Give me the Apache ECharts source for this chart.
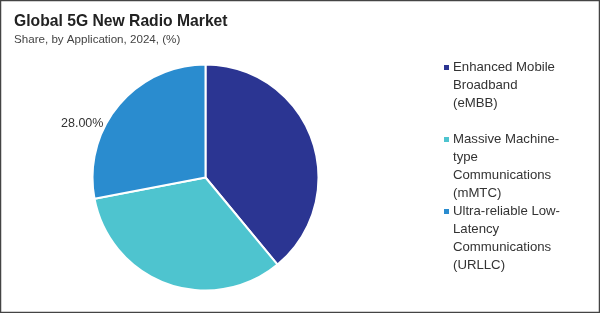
<!DOCTYPE html>
<html><head><meta charset="utf-8">
<script src="https://cdn.jsdelivr.net/npm/echarts@6/dist/echarts.min.js"></script>
<style>html,body{margin:0;padding:0;background:#fff}#c{width:600px;height:313px}</style>
</head><body><div id="c"></div>
<script>
const title = 'Global 5G New Radio Market';
const subtitle = 'Share, by Application, 2024, (%)';
const categories = [
  'Enhanced Mobile Broadband (eMBB)',
  'Massive Machine-type Communications (mMTC)',
  'Ultra-reliable Low-Latency Communications (URLLC)'
];
const legendLines = [
  ['Enhanced Mobile', 'Broadband', '(eMBB)'],
  ['Massive Machine-', 'type', 'Communications', '(mMTC)'],
  ['Ultra-reliable Low-', 'Latency', 'Communications', '(URLLC)']
];
const values = [39, 33, 28];
const labelShown = [false, false, true];
const colors = ['#2b3592', '#4ec4cf', '#2a8ccf'];

const FONT = 'Liberation Sans';
const chart = echarts.init(document.getElementById('c'), null, {renderer: 'canvas'});

const rich = {t: {fontFamily: FONT, fontSize: 13.2, color: '#333', lineHeight: 18}, ind: {width: 9, height: 18, lineHeight: 18}};
colors.forEach((c, i) => { rich['sq' + i] = {width: 5, height: 5, backgroundColor: c}; rich['g' + i] = {width: 4}; });

const legendTops = [61, 133, 205];
const legends = categories.map((name, i) => ({
  orient: 'vertical', left: 438, top: legendTops[i], padding: 0,
  itemWidth: 0, itemHeight: 0, selectedMode: false,
  data: [{name: name, icon: 'rect'}],
  formatter: () => legendLines[i].map((l, k) => k === 0 ? '{sq' + i + '|}{g' + i + '|}{t|' + l + '}' : '{ind|}{t|' + l + '}').join('\n'),
  textStyle: {rich: rich, fontFamily: FONT, fontSize: 13.2, color: '#333'}
}));

chart.setOption({
  animation: false,
  title: [
    {text: title, left: 9, top: 9, textStyle: {fontFamily: FONT, fontWeight: 'bold', fontSize: 15.7, color: '#222'}},
    {text: subtitle, left: 9, top: 29, textStyle: {fontFamily: FONT, fontWeight: 'normal', fontSize: 11.6, color: '#444'}}
  ],
  legend: legends,
  graphic: [{type: 'rect', shape: {x: 0.5, y: 0.5, width: 599, height: 312}, style: {fill: 'none', stroke: '#444', lineWidth: 1.5}, silent: true}],
  series: [{
    type: 'pie', center: [205.5, 177.5], radius: 113, startAngle: 90, clockwise: true,
    itemStyle: {borderColor: '#fff', borderWidth: 2},
    labelLine: {show: false, length: 0, length2: 10},
    data: categories.map((n, i) => ({
      name: n, value: values[i], itemStyle: {color: colors[i]},
      label: {show: labelShown[i], position: 'outside', formatter: p => p.value.toFixed(2) + '%',
        fontFamily: FONT, fontSize: 12.5, color: '#333', offset: [0, 18]}
    }))
  }]
});
</script></body></html>
